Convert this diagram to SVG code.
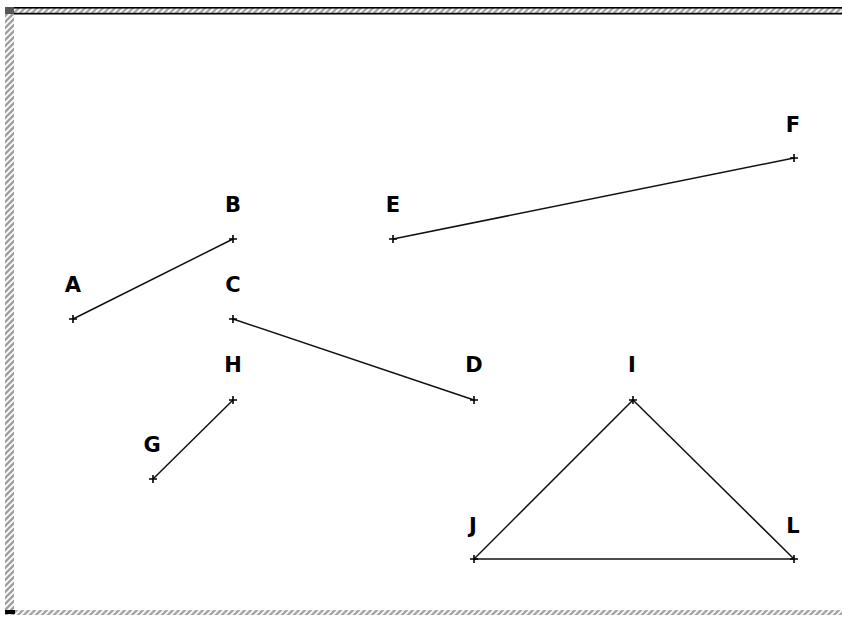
<svg xmlns="http://www.w3.org/2000/svg" width="842" height="617" viewBox="0 0 842 617">
<defs>
<pattern id="hatch" width="6" height="6" patternUnits="userSpaceOnUse">
<rect width="6" height="6" fill="#a8a8a8"/>
<path d="M-1,7 L7,-1 M-1,1 L1,-1 M5,7 L7,5" stroke="#ffffff" stroke-width="1.6"/>
</pattern>
<pattern id="hatchv" width="6" height="6" patternUnits="userSpaceOnUse">
<rect width="6" height="6" fill="#a0a0a0"/>
<path d="M-1,7 L7,-1 M-1,1 L1,-1 M5,7 L7,5" stroke="#ffffff" stroke-width="1.8"/>
</pattern>
<path id="tick" d="M-4,0 H4 M0,-4 V4" stroke="#000" stroke-width="1.6" fill="none"/>
</defs>
<style>
.lbl{font-family:"DejaVu Sans","Liberation Sans",sans-serif;font-weight:bold;font-size:21px;fill:#000;text-anchor:middle}
.edge{stroke:#111;stroke-width:1.5;fill:none}
</style>
<rect width="842" height="617" fill="#ffffff"/>
<g id="frame">
<rect x="5" y="7" width="837" height="7" fill="url(#hatch)"/>
<rect x="5" y="7" width="837" height="1.6" fill="#000"/>
<rect x="5" y="12.8" width="837" height="1.7" fill="#000"/>
<rect x="5" y="14" width="9" height="596" fill="url(#hatchv)"/>
<rect x="5" y="7" width="9" height="7" fill="#555"/>
<rect x="5" y="610" width="837" height="5" fill="url(#hatch)"/>
<rect x="5" y="610" width="10" height="4" fill="#000"/>
</g>
<g id="connectors">
<line class="edge" x1="73" y1="319" x2="233" y2="239"/>
<line class="edge" x1="393" y1="239" x2="794" y2="158"/>
<line class="edge" x1="233" y1="319" x2="474" y2="400"/>
<line class="edge" x1="153" y1="479" x2="233" y2="400"/>
<line class="edge" x1="633" y1="400" x2="474" y2="559"/>
<line class="edge" x1="633" y1="400" x2="794" y2="559"/>
<line class="edge" x1="474" y1="559" x2="794" y2="559"/>
</g>
<g id="node-A"><use href="#tick" x="73" y="319"/><text class="lbl" x="73" y="292">A</text></g>
<g id="node-B"><use href="#tick" x="233" y="239"/><text class="lbl" x="233" y="212">B</text></g>
<g id="node-C"><use href="#tick" x="233" y="319"/><text class="lbl" x="233" y="292">C</text></g>
<g id="node-D"><use href="#tick" x="474" y="400"/><text class="lbl" x="474" y="372">D</text></g>
<g id="node-E"><use href="#tick" x="393" y="239"/><text class="lbl" x="393" y="212">E</text></g>
<g id="node-F"><use href="#tick" x="794" y="158"/><text class="lbl" x="793" y="132">F</text></g>
<g id="node-G"><use href="#tick" x="153" y="479"/><text class="lbl" x="152" y="452">G</text></g>
<g id="node-H"><use href="#tick" x="233" y="400"/><text class="lbl" x="233" y="372">H</text></g>
<g id="node-I"><use href="#tick" x="633" y="400"/><text class="lbl" x="632" y="372">I</text></g>
<g id="node-J"><use href="#tick" x="474" y="559"/><text class="lbl" x="473" y="533">J</text></g>
<g id="node-L"><use href="#tick" x="794" y="559"/><text class="lbl" x="793" y="533">L</text></g>
</svg>
